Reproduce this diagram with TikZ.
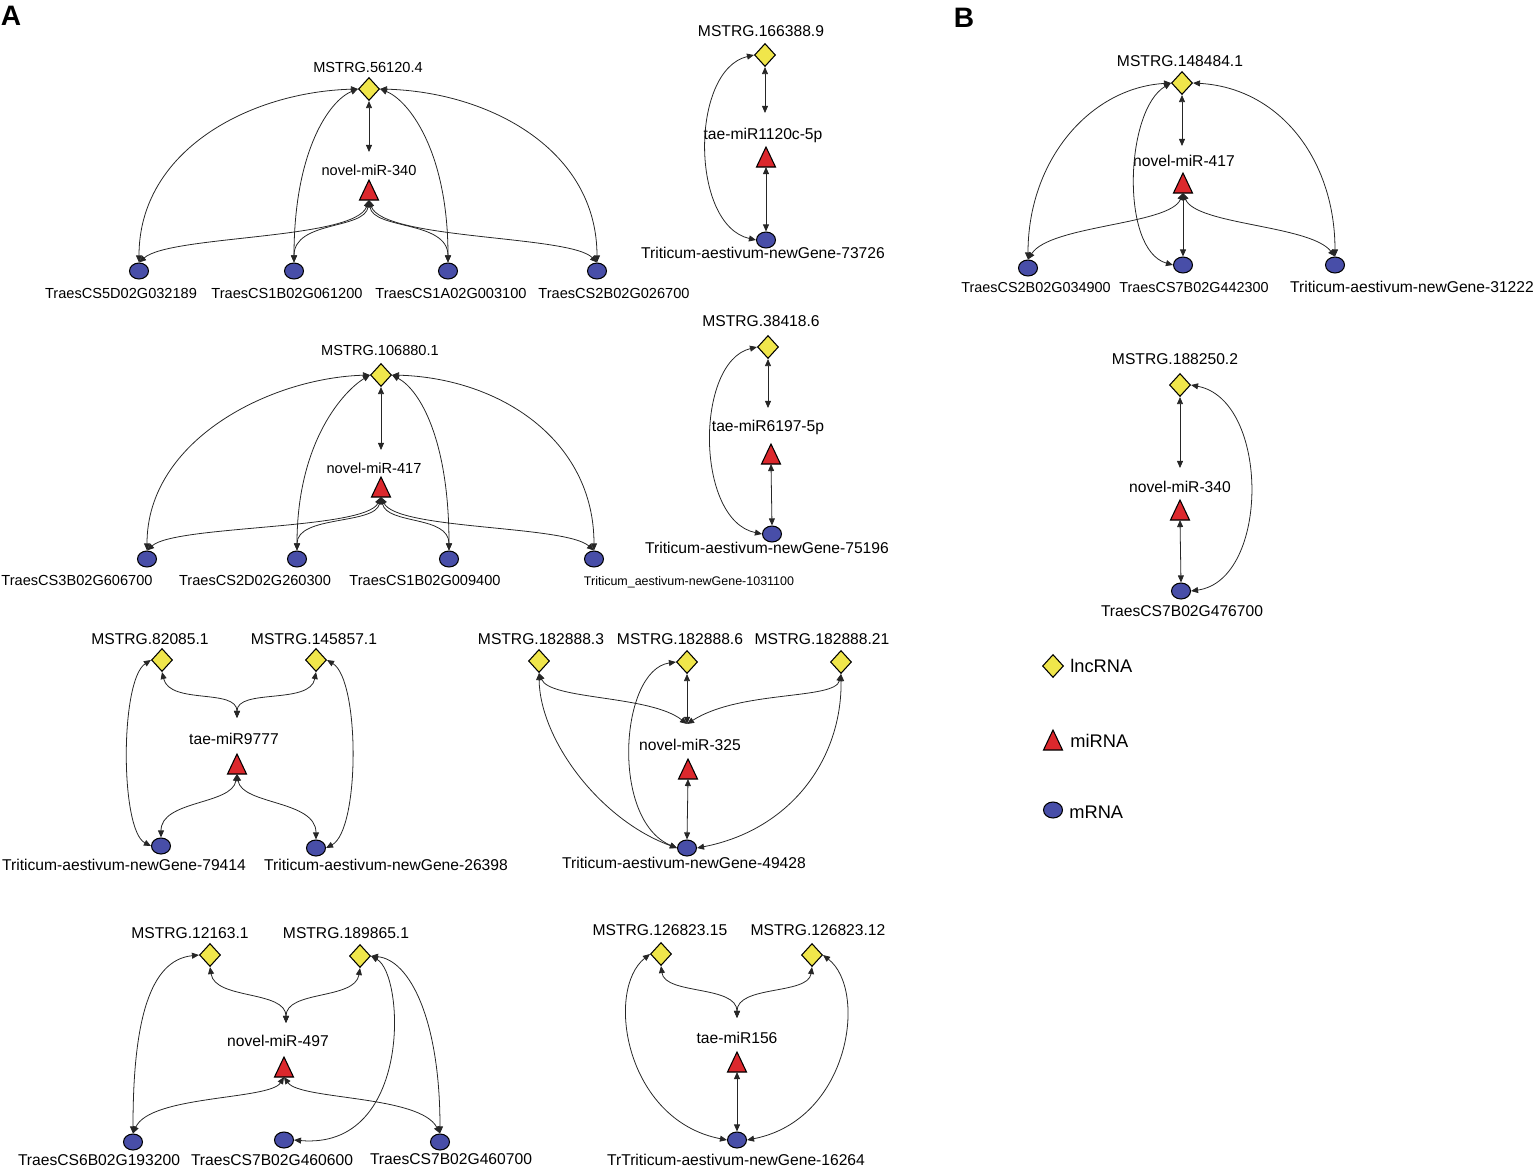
\documentclass[tikz,border=0pt]{standalone}
\usepackage{fontspec}
\setmainfont{Liberation Sans}
\usetikzlibrary{shapes.geometric,arrows.meta}
\definecolor{lncY}{RGB}{240,230,75}
\definecolor{mirR}{RGB}{220,40,45}
\definecolor{mrnaB}{RGB}{72,78,168}
\newcommand\mirnode[2]{\node[mirbox] (#1) at (#2) {};\draw[mirtri] (#1.south west) -- (#1.south east) -- (#1.north) -- cycle;}
\begin{document}
\begin{tikzpicture}[x=0.02cm,y=-0.02cm,
  >={Triangle[length=4pt,width=3.4pt]},
  ed/.style={<->,line width=0.45pt,draw=black!85},
  lnc/.style={diamond,draw=black,fill=lncY,line width=0.6pt,inner sep=0,minimum width=0.42cm,minimum height=0.46cm},
  mrna/.style={ellipse,draw=black,fill=mrnaB,line width=0.6pt,inner sep=0,minimum width=0.38cm,minimum height=0.32cm},
  mirbox/.style={inner sep=0,outer sep=0,minimum width=0.38cm,minimum height=0.40cm},
  mirtri/.style={draw=black,fill=mirR,line width=0.6pt,line join=miter},
  lb/.style={anchor=base,inner sep=0,font=\fontsize{8.9}{10}\selectfont},
  lbs/.style={anchor=base,inner sep=0,font=\fontsize{8.3}{10}\selectfont},
  lbm/.style={anchor=base,inner sep=0,font=\fontsize{8.2}{10}\selectfont},
  lbt/.style={anchor=base,inner sep=0,font=\fontsize{7.1}{9}\selectfont},
  lg/.style={anchor=base west,inner sep=0,font=\fontsize{10.4}{12}\selectfont},
  panel/.style={inner sep=0,font=\fontsize{16}{18}\selectfont\bfseries}]
\useasboundingbox (0,0) rectangle (1536,1167);

\node[panel] (pA) at (11,16) {A};
\node[panel] (pB) at (964,18) {B};

% ---------- Component 1
\node[lbs] (t1a) at (368,72) {MSTRG.56120.4};
\node[lnc] (l1) at (369,89) {};
\coordinate (j1) at (369,152);
\node[lbs] (t1b) at (369,175) {novel-miR-340};
\mirnode{m1}{369,190}
\node[mrna] (e1a) at (139,271) {};
\node[mrna] (e1b) at (294,271) {};
\node[mrna] (e1c) at (448,271) {};
\node[mrna] (e1d) at (597,271) {};
\node[lbs] (t1c) at (121,298) {TraesCS5D02G032189};
\node[lbs] (t1d) at (287,298) {TraesCS1B02G061200};
\node[lbs] (t1e) at (451,298) {TraesCS1A02G003100};
\node[lbs] (t1f) at (614,298) {TraesCS2B02G026700};
\draw[ed] (l1.south) -- (j1);
\draw[ed] (l1.west) .. controls (250,92) and (139,150) .. (e1a.north);
\draw[ed] (l1.west) .. controls (330,100) and (294,150) .. (e1b.north);
\draw[ed] (l1.east) .. controls (408,100) and (448,150) .. (e1c.north);
\draw[ed] (l1.east) .. controls (490,92) and (597,150) .. (e1d.north);
\draw[ed] (m1.south) .. controls (355,240) and (170,235) .. (e1a.north);
\draw[ed] (m1.south) .. controls (365,230) and (294,220) .. (e1b.north);
\draw[ed] (m1.south) .. controls (373,230) and (448,220) .. (e1c.north);
\draw[ed] (m1.south) .. controls (383,240) and (570,235) .. (e1d.north);

% ---------- Component 2
\node[lb] (t2a) at (761,36.5) {MSTRG.166388.9};
\node[lnc] (l2) at (765,55) {};
\coordinate (j2) at (765,113);
\node[lb] (t2b) at (763,139.5) {tae-miR1120c-5p};
\mirnode{m2}{766,157}
\node[mrna] (e2) at (766,240) {};
\node[lb] (t2c) at (763,258.5) {Triticum-aestivum-newGene-73726};
\draw[ed] (l2.south) -- (j2);
\draw[ed] (m2.south) -- (e2.north);
\draw[ed] (l2.west) .. controls (690,70) and (690,225) .. (e2.west);

% ---------- Component 3
\node[lbs] (t3a) at (380,355) {MSTRG.106880.1};
\node[lnc] (l3) at (381,375) {};
\coordinate (j3) at (381,450);
\node[lbs] (t3b) at (374,473) {novel-miR-417};
\mirnode{m3}{381,487}
\node[mrna] (e3a) at (147,559) {};
\node[mrna] (e3b) at (297,559) {};
\node[mrna] (e3c) at (449,559) {};
\node[mrna] (e3d) at (594,559) {};
\node[lbs] (t3c) at (77,585) {TraesCS3B02G606700};
\node[lbs] (t3d) at (255,585) {TraesCS2D02G260300};
\node[lbs] (t3e) at (425,585) {TraesCS1B02G009400};
\node[lbt] (t3f) at (689,585) {Triticum\_aestivum-newGene-1031100};
\draw[ed] (l3.south) -- (j3);
\draw[ed] (l3.west) .. controls (270,378) and (147,440) .. (e3a.north);
\draw[ed] (l3.west) .. controls (345,390) and (297,440) .. (e3b.north);
\draw[ed] (l3.east) .. controls (420,390) and (449,440) .. (e3c.north);
\draw[ed] (l3.east) .. controls (500,378) and (594,440) .. (e3d.north);
\draw[ed] (m3.south) .. controls (365,530) and (175,525) .. (e3a.north);
\draw[ed] (m3.south) .. controls (375,525) and (297,515) .. (e3b.north);
\draw[ed] (m3.south) .. controls (387,525) and (449,515) .. (e3c.north);
\draw[ed] (m3.south) .. controls (397,530) and (565,525) .. (e3d.north);

% ---------- Component 4
\node[lb] (t4a) at (761,326.5) {MSTRG.38418.6};
\node[lnc] (l4) at (768,347) {};
\coordinate (j4) at (768,408);
\node[lb] (t4b) at (768,431.5) {tae-miR6197-5p};
\mirnode{m4}{771,454}
\node[mrna] (e4) at (772,534) {};
\node[lb] (t4c) at (767,553.5) {Triticum-aestivum-newGene-75196};
\draw[ed] (l4.south) -- (j4);
\draw[ed] (m4.south) -- (e4.north);
\draw[ed] (l4.west) .. controls (695,362) and (695,520) .. (e4.west);

% ---------- Component 5
\node[lb] (t5a) at (150,644.5) {MSTRG.82085.1};
\node[lb] (t5b) at (314,644.5) {MSTRG.145857.1};
\node[lnc] (l5a) at (162,660) {};
\node[lnc] (l5b) at (316,660) {};
\coordinate (j5) at (237,718);
\node[lb] (t5c) at (234,744.5) {tae-miR9777};
\mirnode{m5}{237,764}
\node[mrna] (e5a) at (161,846) {};
\node[mrna] (e5b) at (316,848) {};
\node[lb] (t5d) at (124,870.5) {Triticum-aestivum-newGene-79414};
\node[lb] (t5e) at (386,870.5) {Triticum-aestivum-newGene-26398};
\draw[ed] (l5a.south) .. controls (170,705) and (237,688) .. (j5);
\draw[ed] (l5b.south) .. controls (310,705) and (237,688) .. (j5);
\draw[ed] (l5a.west) .. controls (120,680) and (120,830) .. (e5a.west);
\draw[ed] (l5b.east) .. controls (360,680) and (360,830) .. (e5b.east);
\draw[ed] (m5.south) .. controls (232,805) and (161,800) .. (e5a.north);
\draw[ed] (m5.south) .. controls (242,805) and (316,800) .. (e5b.north);

% ---------- Component 6
\node[lb] (t6a) at (541,644.5) {MSTRG.182888.3};
\node[lb] (t6b) at (680,644.5) {MSTRG.182888.6};
\node[lb] (t6c) at (822,644.5) {MSTRG.182888.21};
\node[lnc] (l6a) at (539,661) {};
\node[lnc] (l6b) at (687,662) {};
\node[lnc] (l6c) at (841,662) {};
\coordinate (j6) at (687,724);
\node[lb] (t6d) at (690,750.5) {novel-miR-325};
\mirnode{m6}{688,769}
\node[mrna] (e6) at (687,848) {};
\node[lb] (t6e) at (684,868.5) {Triticum-aestivum-newGene-49428};
\draw[ed] (l6a.south) .. controls (550,700) and (650,695) .. (j6);
\draw[ed] (l6b.south) -- (j6);
\draw[ed] (l6c.south) .. controls (835,700) and (740,690) .. (j6);
\draw[ed] (m6.south) -- (e6.north);
\draw[ed] (l6a.south) .. controls (540,740) and (600,820) .. (e6.west);
\draw[ed] (l6b.west) .. controls (620,670) and (610,820) .. (e6.west);
\draw[ed] (l6c.south) .. controls (842,760) and (790,830) .. (e6.east);

% ---------- Component 7
\node[lb] (t7a) at (190,938.5) {MSTRG.12163.1};
\node[lb] (t7b) at (346,938.5) {MSTRG.189865.1};
\node[lnc] (l7a) at (210,955) {};
\node[lnc] (l7b) at (360,956) {};
\coordinate (j7) at (286,1023);
\node[lb] (t7c) at (278,1046.5) {novel-miR-497};
\mirnode{m7}{284,1067}
\node[mrna] (e7a) at (133,1142) {};
\node[mrna] (e7b) at (284,1140) {};
\node[mrna] (e7c) at (440,1142) {};
\node[lb] (t7d) at (99,1165.5) {TraesCS6B02G193200};
\node[lb] (t7e) at (272,1165.5) {TraesCS7B02G460600};
\node[lb] (t7f) at (451,1164) {TraesCS7B02G460700};
\draw[ed] (l7a.south) .. controls (215,1000) and (286,990) .. (j7);
\draw[ed] (l7b.south) .. controls (355,1000) and (286,990) .. (j7);
\draw[ed] (l7a.west) .. controls (150,960) and (133,1020) .. (e7a.north);
\draw[ed] (l7b.east) .. controls (410,960) and (440,1020) .. (e7c.north);
\draw[ed] (l7b.east) .. controls (405,975) and (412,1150) .. (e7b.east);
\draw[ed] (m7.south) .. controls (270,1100) and (150,1095) .. (e7a.north);
\draw[ed] (m7.south) .. controls (300,1100) and (420,1095) .. (e7c.north);

% ---------- Component 8
\node[lb] (t8a) at (660,935.5) {MSTRG.126823.15};
\node[lb] (t8b) at (818,935.5) {MSTRG.126823.12};
\node[lnc] (l8a) at (661,954) {};
\node[lnc] (l8b) at (812,955) {};
\coordinate (j8) at (737,1018);
\node[lb] (t8c) at (737,1043.5) {tae-miR156};
\mirnode{m8}{737,1062}
\node[mrna] (e8) at (737,1140) {};
\node[lb] (t8d) at (736,1165.5) {TrTriticum-aestivum-newGene-16264};
\draw[ed] (l8a.south) .. controls (665,995) and (737,985) .. (j8);
\draw[ed] (l8b.south) .. controls (808,995) and (737,985) .. (j8);
\draw[ed] (l8a.west) .. controls (605,990) and (625,1120) .. (e8.west);
\draw[ed] (l8b.east) .. controls (868,990) and (850,1120) .. (e8.east);
\draw[ed] (m8.south) -- (e8.north);

% ---------- B Component 1
\node[lb] (t9a) at (1180,66.5) {MSTRG.148484.1};
\node[lnc] (l9) at (1182,83) {};
\coordinate (j9) at (1182,146);
\node[lb] (t9b) at (1184,166.5) {novel-miR-417};
\mirnode{m9}{1183,183}
\node[mrna] (e9a) at (1028,268) {};
\node[mrna] (e9b) at (1183,265) {};
\node[mrna] (e9c) at (1335,265) {};
\node[lbm] (t9c) at (1036,292.5) {TraesCS2B02G034900};
\node[lbm] (t9d) at (1194,292.5) {TraesCS7B02G442300};
\node[lb] (t9e) at (1412,292.5) {Triticum-aestivum-newGene-31222};
\draw[ed] (l9.south) -- (j9);
\draw[ed] (l9.west) .. controls (1090,88) and (1028,160) .. (e9a.north);
\draw[ed] (l9.west) .. controls (1125,110) and (1120,250) .. (e9b.west);
\draw[ed] (l9.east) .. controls (1280,88) and (1335,160) .. (e9c.north);
\draw[ed] (m9.south) .. controls (1170,225) and (1050,225) .. (e9a.north);
\draw[ed] (m9.south) -- (e9b.north);
\draw[ed] (m9.south) .. controls (1196,225) and (1310,225) .. (e9c.north);

% ---------- B Component 2
\node[lb] (t10a) at (1175,364.5) {MSTRG.188250.2};
\node[lnc] (l10) at (1180,385) {};
\coordinate (j10) at (1180,468);
\node[lb] (t10b) at (1180,492.5) {novel-miR-340};
\mirnode{m10}{1180,510}
\node[mrna] (e10) at (1181,591) {};
\node[lb] (t10c) at (1182,616.5) {TraesCS7B02G476700};
\draw[ed] (l10.south) -- (j10);
\draw[ed] (m10.south) -- (e10.north);
\draw[ed] (l10.east) .. controls (1270,400) and (1270,580) .. (e10.east);

% ---------- Legend
\node[lnc] (kl) at (1053,666) {};
\node[lg] (kt1) at (1070,672.5) {lncRNA};
\mirnode{km}{1053,740}
\node[lg] (kt2) at (1070,747.5) {miRNA};
\node[mrna] (ke) at (1053,810) {};
\node[lg] (kt3) at (1069,818.5) {mRNA};
\end{tikzpicture}
\end{document}
